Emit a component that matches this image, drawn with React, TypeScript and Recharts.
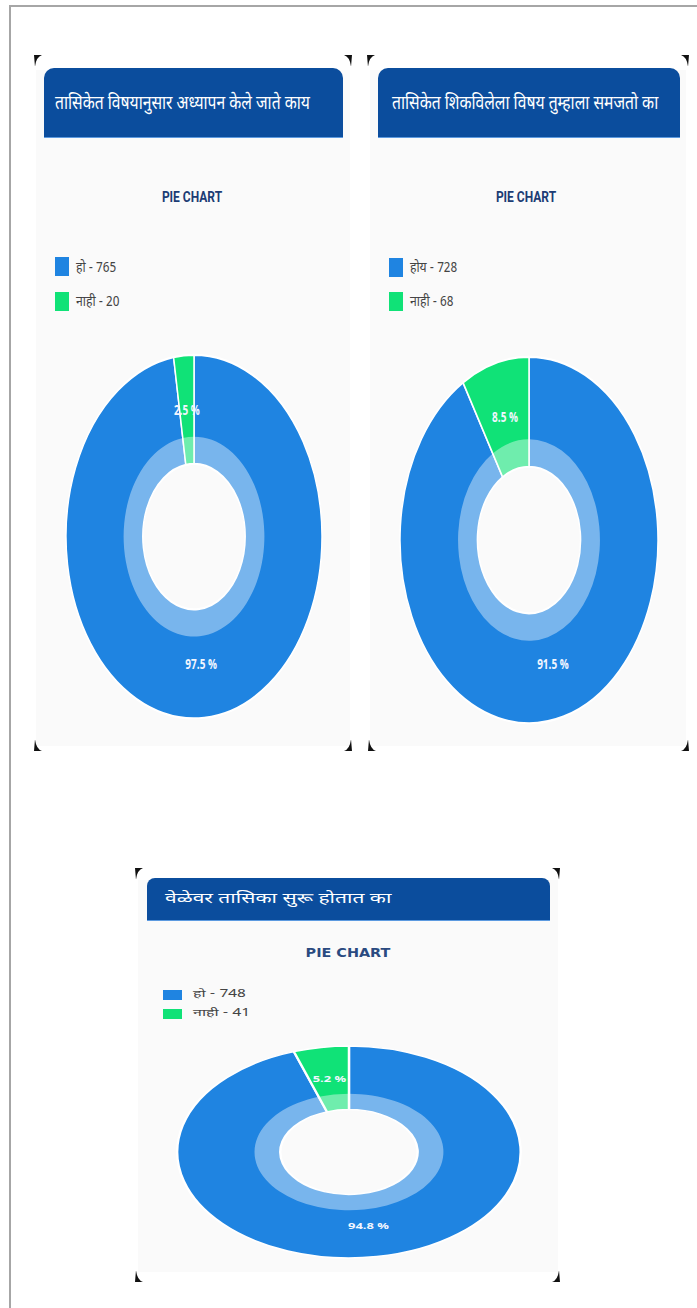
import React from 'react';
import { PieChart, Pie, Cell } from 'recharts';

const CARD1_TITLE = 'तासिकेत विषयानुसार अध्यापन केले जाते काय';
const CARD1_CATEGORIES = ['हो', 'नाही'];
const CARD1_VALUES = [765, 20];

const CARD2_TITLE = 'तासिकेत शिकविलेला विषय तुम्हाला समजतो का';
const CARD2_CATEGORIES = ['होय', 'नाही'];
const CARD2_VALUES = [728, 68];

const CARD3_TITLE = 'वेळेवर तासिका सुरू होतात का';
const CARD3_CATEGORIES = ['हो', 'नाही'];
const CARD3_VALUES = [748, 41];

const CHART_HEADING = 'PIE CHART';
const SLICE_COLORS = ['#1f84e1', '#10e277'];
const HEADER_BLUE = '#0b4d9d';
const DEVA = "'Noto Sans Devanagari', 'Lohit Devanagari', 'Noto Sans', 'FreeSans', sans-serif";

const RAD = Math.PI / 180;

function makeLabel(fontSize: number) {
  return (props: any) => {
    const { cx, cy, midAngle, outerRadius, percent } = props;
    const r = outerRadius * 0.7;
    const x = cx + r * Math.cos(-midAngle * RAD);
    const y = cy + r * Math.sin(-midAngle * RAD);
    return (
      <text x={x} y={y} fill="#f2f6ff" fontSize={fontSize} fontWeight={700}
        fontFamily="'Open Sans', sans-serif" textAnchor="middle" dominantBaseline="central">
        {(percent * 100).toFixed(1) + ' %'}
      </text>
    );
  };
}

function Donut({ categories, values, cx, cy, R, sx, sy, fontSize }: any) {
  const data = categories.map((c: string, i: number) => ({ name: c, value: values[i] }));
  const size = 2 * R + 4;
  return (
    <div style={{ position: 'absolute', left: cx - (R + 2) * sx, top: cy - (R + 2) * sy,
      width: size, height: size, transform: `scale(${sx}, ${sy})`, transformOrigin: '0 0' }}>
      <PieChart width={size} height={size} margin={{ top: 0, right: 0, bottom: 0, left: 0 }}>
        <Pie data={data} dataKey="value" cx={R + 2} cy={R + 2} innerRadius={R * 0.4} outerRadius={R}
          startAngle={90} endAngle={-270} stroke="#ffffff" strokeWidth={1.5}
          isAnimationActive={false} labelLine={false} label={makeLabel(fontSize)}>
          {data.map((d: any, i: number) => <Cell key={i} fill={SLICE_COLORS[i]} />)}
        </Pie>
        <Pie data={data} dataKey="value" cx={R + 2} cy={R + 2} innerRadius={R * 0.4} outerRadius={R * 0.55}
          startAngle={90} endAngle={-270} stroke="none" fill="#ffffff" fillOpacity={0.4}
          isAnimationActive={false} />
      </PieChart>
    </div>
  );
}

function Mark({ x, y, corner }: any) {
  const sx = corner.includes('r') ? -1 : 1;
  const sy = corner.includes('b') ? -1 : 1;
  return (
    <svg style={{ position: 'absolute', left: x - 6, top: y - 6 }} width={12} height={12}>
      <g transform={`translate(6,6) scale(${sx},${sy}) translate(-4,-5)`}>
        <path d="M0,0 L8,0 Q2,2 1,12 Z" fill="#111" />
      </g>
    </svg>
  );
}

function Text({ x, y, text, size, color, weight, family, scaleX, anchor }: any) {
  return (
    <div style={{ position: 'absolute', left: x, top: y, whiteSpace: 'nowrap', fontSize: size,
      color, fontWeight: weight || 400, fontFamily: family, lineHeight: '1',
      transform: `translate(${anchor === 'middle' ? '-50%' : '0'}, -50%) scaleX(${scaleX || 1})`,
      transformOrigin: anchor === 'middle' ? '50% 50%' : '0 50%' }}>
      {text}
    </div>
  );
}

export default function App() {
  return (
    <div style={{ position: 'absolute', left: 0, top: 0, width: 697, height: 1308, background: '#fff', overflow: 'hidden' }}>
      <div style={{ position: 'absolute', left: 9, top: 5, width: 700, height: 1310,
        borderTop: '2px solid #a6a6a6', borderLeft: '2px solid #a6a6a6' }} />

      {/* Card 1 */}
      <div style={{ position: 'absolute', left: 36, top: 70, width: 314, height: 676, background: '#fafafa' }} />
      <div style={{ position: 'absolute', left: 44, top: 68, width: 299, height: 69, background: HEADER_BLUE,
        borderRadius: '10px 10px 0 0', borderBottom: '1px solid #5c9ae0' }} />
      <Text x={55} y={104} text={CARD1_TITLE} size={19} color="#fff" family={DEVA} scaleX={0.825} />
      <Text x={192} y={197} text={CHART_HEADING} size={15} color="#1c3c74" weight={700} family="Roboto, sans-serif" scaleX={0.8} anchor="middle" />
      <div style={{ position: 'absolute', left: 55, top: 257, width: 14, height: 19, background: SLICE_COLORS[0] }} />
      <Text x={76} y={269} text={`${CARD1_CATEGORIES[0]} - ${CARD1_VALUES[0]}`} size={14} color="#444" family={DEVA} scaleX={0.87} />
      <div style={{ position: 'absolute', left: 55, top: 292, width: 14, height: 19, background: SLICE_COLORS[1] }} />
      <Text x={76} y={303} text={`${CARD1_CATEGORIES[1]} - ${CARD1_VALUES[1]}`} size={14} color="#444" family={DEVA} scaleX={0.87} />
      <Donut categories={CARD1_CATEGORIES} values={CARD1_VALUES} cx={194} cy={537} R={128} sx={1} sy={1.42} fontSize={10} />
      <Mark x={38} y={60} corner="tl" />
      <Mark x={348} y={60} corner="tr" />
      <Mark x={38} y={746} corner="bl" />
      <Mark x={348} y={746} corner="br" />

      {/* Card 2 */}
      <div style={{ position: 'absolute', left: 370, top: 70, width: 316, height: 676, background: '#fafafa' }} />
      <div style={{ position: 'absolute', left: 378, top: 68, width: 302, height: 69, background: HEADER_BLUE,
        borderRadius: '10px 10px 0 0', borderBottom: '1px solid #5c9ae0' }} />
      <Text x={392} y={104} text={CARD2_TITLE} size={19} color="#fff" family={DEVA} scaleX={0.825} />
      <Text x={526} y={197} text={CHART_HEADING} size={15} color="#1c3c74" weight={700} family="Roboto, sans-serif" scaleX={0.8} anchor="middle" />
      <div style={{ position: 'absolute', left: 389, top: 258, width: 14, height: 19, background: SLICE_COLORS[0] }} />
      <Text x={410} y={269} text={`${CARD2_CATEGORIES[0]} - ${CARD2_VALUES[0]}`} size={14} color="#444" family={DEVA} scaleX={0.87} />
      <div style={{ position: 'absolute', left: 389, top: 292, width: 14, height: 19, background: SLICE_COLORS[1] }} />
      <Text x={410} y={303} text={`${CARD2_CATEGORIES[1]} - ${CARD2_VALUES[1]}`} size={14} color="#444" family={DEVA} scaleX={0.87} />
      <Donut categories={CARD2_CATEGORIES} values={CARD2_VALUES} cx={529} cy={540} R={129} sx={1} sy={1.42} fontSize={10} />
      <Mark x={371} y={60} corner="tl" />
      <Mark x={685} y={60} corner="tr" />
      <Mark x={372} y={746} corner="bl" />
      <Mark x={685} y={746} corner="br" />

      {/* Card 3 */}
      <div style={{ position: 'absolute', left: 138, top: 880, width: 420, height: 392, background: '#fafafa' }} />
      <div style={{ position: 'absolute', left: 147, top: 878, width: 403, height: 42, background: HEADER_BLUE,
        borderRadius: '8px 8px 0 0', borderBottom: '1px solid #5c9ae0' }} />
      <Text x={165} y={900} text={CARD3_TITLE} size={14} color="#fff" family={DEVA} scaleX={1.5} />
      <Text x={348} y={953} text={CHART_HEADING} size={12} color="#2a4a80" weight={700} family="'DejaVu Sans', sans-serif" scaleX={1.2} anchor="middle" />
      <div style={{ position: 'absolute', left: 163, top: 990, width: 19, height: 10, background: SLICE_COLORS[0] }} />
      <Text x={193} y={995} text={`${CARD3_CATEGORIES[0]} - ${CARD3_VALUES[0]}`} size={10} color="#444" family={DEVA} scaleX={1.6} />
      <div style={{ position: 'absolute', left: 163, top: 1009, width: 19, height: 10, background: SLICE_COLORS[1] }} />
      <Text x={193} y={1014} text={`${CARD3_CATEGORIES[1]} - ${CARD3_VALUES[1]}`} size={10} color="#444" family={DEVA} scaleX={1.6} />
      <Donut categories={CARD3_CATEGORIES} values={CARD3_VALUES} cx={348.5} cy={1152} R={106} sx={1.62} sy={1} fontSize={8} />
      <Mark x={139} y={873} corner="tl" />
      <Mark x={556} y={873} corner="tr" />
      <Mark x={139} y={1277} corner="bl" />
      <Mark x={556} y={1277} corner="br" />
    </div>
  );
}
